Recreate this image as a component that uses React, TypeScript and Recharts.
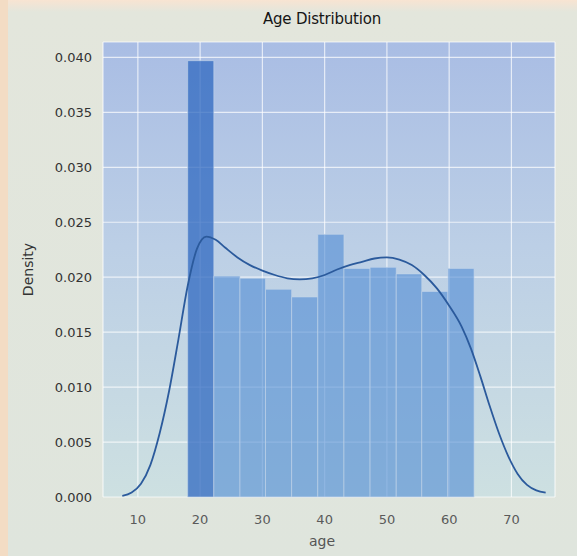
import React from 'react';
import {
  ComposedChart, Line, XAxis, YAxis, CartesianGrid, ReferenceArea, Label,
} from 'recharts';

// histogram bins (age) and their densities
const binEdges = [18, 22.2, 26.4, 30.5, 34.7, 38.9, 43.1, 47.3, 51.5, 55.6, 59.8, 64];
const binDensity = [0.0397, 0.0201, 0.0199, 0.0189, 0.0182, 0.0239, 0.0208, 0.0209, 0.0203, 0.0187, 0.0208];

// kde curve
const kdeAge = [7.5, 9, 10.5, 12, 13.5, 15, 16.5, 18, 19.5, 21, 22.5, 24, 26, 28, 30, 32, 34, 36, 38, 40,
  42, 44, 46, 48, 50, 52, 54, 56, 58, 60, 62, 63.5, 65, 66.5, 68, 69.5, 71, 72.5, 74, 75.5];
const kdeDensity = [0.0001, 0.0004, 0.0012, 0.0029, 0.0058, 0.0096, 0.0143, 0.0192, 0.0226, 0.0237, 0.0234,
  0.0227, 0.0218, 0.0211, 0.0206, 0.0202, 0.0199, 0.0198, 0.0199, 0.0202, 0.0207, 0.0211, 0.0214, 0.0217,
  0.0218, 0.0216, 0.0211, 0.0202, 0.019, 0.0174, 0.0155, 0.0135, 0.011, 0.0083, 0.0058, 0.0037, 0.0021,
  0.0011, 0.0006, 0.0004];

const xTicks = [10, 20, 30, 40, 50, 60, 70];
const yTicks = [0, 0.005, 0.01, 0.015, 0.02, 0.025, 0.03, 0.035, 0.04];

const kdeData = kdeAge.map((age, i) => ({ age, density: kdeDensity[i] }));

const font = '"DejaVu Sans", sans-serif';

export default function App() {
  return (
    <div
      style={{
        position: 'absolute', left: 0, top: 0, width: 577, height: 556,
        background: 'linear-gradient(180deg, #f8e4d2 0px, #e3e6dc 12px, #dfe5dd 100%)',
        fontFamily: font,
      }}
    >
      <div style={{ position: 'absolute', left: 0, top: 0, width: 8, height: 556, background: '#f3dcc4' }} />
      <div
        style={{
          position: 'absolute', left: 96, top: 10, width: 452, textAlign: 'center',
          fontSize: 15, color: '#151515', letterSpacing: -0.2,
        }}
      >
        Age Distribution
      </div>
      <div style={{ position: 'absolute', left: 0, top: 0 }}>
        <ComposedChart
          width={577}
          height={556}
          data={kdeData}
          margin={{ top: 42, right: 22, bottom: 7, left: 0 }}
        >
          <defs>
            <linearGradient id="plotBg" x1="0" y1="0" x2="0" y2="1">
              <stop offset="0%" stopColor="#a9bde4" />
              <stop offset="45%" stopColor="#bccfe6" />
              <stop offset="100%" stopColor="#cde0e1" />
            </linearGradient>
          </defs>
          <CartesianGrid fill="url(#plotBg)" fillOpacity={1} stroke="#ffffff" strokeOpacity={0.7} strokeWidth={1.2} />
          <XAxis
            dataKey="age"
            type="number"
            domain={[4.4, 77]}
            ticks={xTicks}
            allowDataOverflow
            axisLine={false}
            tickLine={false}
            tickMargin={12}
            height={52}
            tick={{ fill: '#5a5a5a', fontSize: 13, fontFamily: font }}
          >
            <Label value="age" position="insideBottom" offset={3} dx={-7} style={{ fill: '#555', fontSize: 14, fontFamily: font }} />
          </XAxis>
          <YAxis
            type="number"
            domain={[0, 0.0414]}
            ticks={yTicks}
            allowDataOverflow
            axisLine={false}
            tickLine={false}
            tickMargin={5}
            width={103}
            tickFormatter={(v: number) => v.toFixed(3)}
            tick={{ fill: '#333', fontSize: 13, fontFamily: font }}
          >
            <Label value="Density" angle={-90} position="insideLeft" offset={28} style={{ textAnchor: 'middle', fill: '#333', fontSize: 14, fontFamily: font }} />
          </YAxis>
          {binDensity.map((d, i) => (
            <ReferenceArea
              key={i}
              x1={binEdges[i]}
              x2={binEdges[i + 1]}
              y1={0}
              y2={d}
              fill={i === 0 ? '#2f68c0' : '#4f8ad3'}
              fillOpacity={i === 0 ? 0.75 : 0.6}
              stroke="#c4d6ea"
              strokeWidth={1}
              strokeOpacity={0.6}
            />
          ))}
          <Line
            type="monotone"
            dataKey="density"
            stroke="#2b5a9c"
            strokeWidth={1.8}
            dot={false}
            isAnimationActive={false}
          />
        </ComposedChart>
      </div>
    </div>
  );
}
